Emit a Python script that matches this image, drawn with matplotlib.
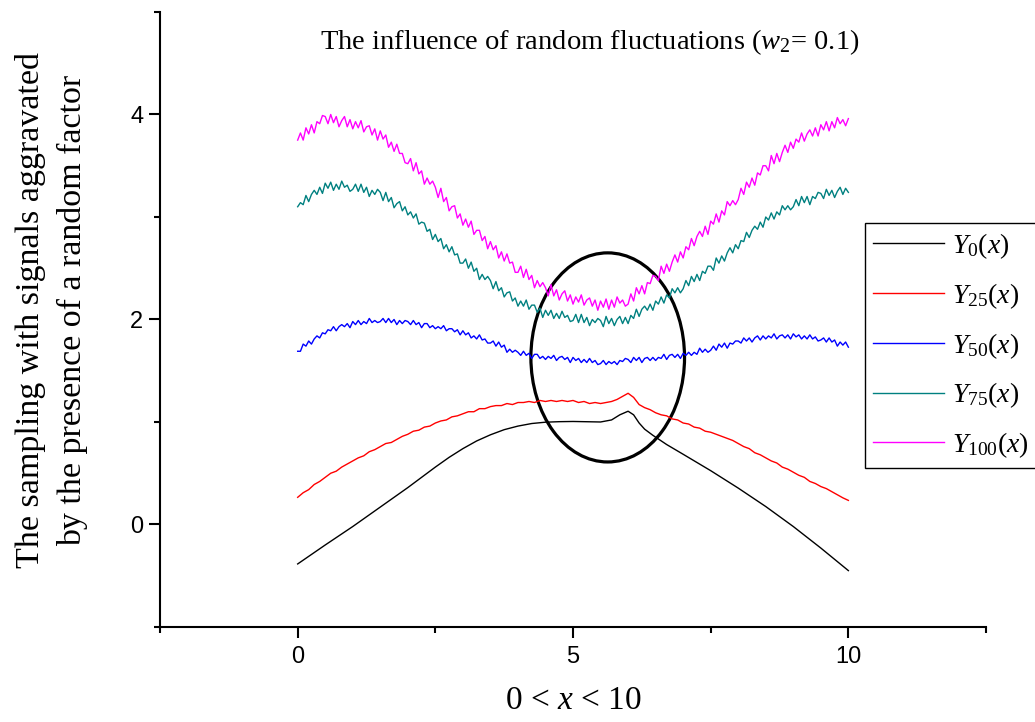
import numpy as np
import matplotlib
matplotlib.use('Agg')
import matplotlib.pyplot as plt
from matplotlib.patches import Ellipse

plt.rcParams['font.family'] = ['Liberation Sans', 'DejaVu Sans']
plt.rcParams['mathtext.fontset'] = 'custom'
plt.rcParams['mathtext.rm'] = 'Liberation Serif'
plt.rcParams['mathtext.it'] = 'Liberation Serif:italic'

# sampling grids
x_fine = np.linspace(0, 10, 201)
x_mid = np.linspace(0, 10, 101)

# Y0 (smooth)
x_y0 = [0, 0.5, 1, 1.5, 2, 2.5, 2.75, 3, 3.25, 3.5, 3.75, 4, 4.25, 4.5, 4.75, 5, 5.5,
        5.7, 5.85, 6.0, 6.1, 6.2, 6.3, 6.45, 6.7, 7, 7.5, 8, 8.5, 9, 9.5, 10]
y0 = [-0.385, -0.20, -0.02, 0.17, 0.36, 0.56, 0.655, 0.74, 0.815, 0.875, 0.925, 0.96,
      0.985, 0.998, 1.003, 1.005, 1.0, 1.02, 1.07, 1.105, 1.07, 0.99, 0.93, 0.87, 0.78,
      0.685, 0.525, 0.355, 0.175, -0.02, -0.23, -0.45]

# Y25 (step 0.1)
y25 = [0.265, 0.31, 0.34, 0.39, 0.42, 0.46, 0.50, 0.52, 0.56, 0.59,
       0.62, 0.65, 0.67, 0.71, 0.73, 0.76, 0.79, 0.80, 0.83, 0.86,
       0.88, 0.91, 0.92, 0.95, 0.96, 0.99, 1.01, 1.02, 1.05, 1.06,
       1.08, 1.10, 1.10, 1.13, 1.13, 1.15, 1.16, 1.16, 1.18, 1.17,
       1.19, 1.19, 1.20, 1.19, 1.21, 1.20, 1.21, 1.20, 1.21, 1.20,
       1.21, 1.19, 1.20, 1.18, 1.19, 1.18, 1.19, 1.20, 1.22, 1.25,
       1.28, 1.24, 1.17, 1.14, 1.12, 1.09, 1.07, 1.06, 1.03, 1.02,
       0.99, 0.98, 0.95, 0.94, 0.91, 0.90, 0.88, 0.86, 0.84, 0.82,
       0.79, 0.76, 0.74, 0.70, 0.68, 0.65, 0.62, 0.60, 0.56, 0.54,
       0.51, 0.48, 0.46, 0.42, 0.40, 0.37, 0.35, 0.32, 0.29, 0.26,
       0.235]

# Y50 (step 0.05)
y50 = [1.69, 1.69, 1.76, 1.74, 1.79, 1.76, 1.81, 1.84, 1.82, 1.87,
       1.86, 1.90, 1.89, 1.93, 1.89, 1.93, 1.95, 1.93, 1.96, 1.92,
       1.98, 1.95, 1.99, 1.95, 1.98, 1.96, 2.01, 1.97, 1.99, 1.97,
       1.98, 2.01, 1.97, 2.01, 1.97, 2.00, 1.95, 1.99, 1.96, 1.99,
       1.98, 1.95, 1.99, 1.95, 1.97, 1.92, 1.96, 1.96, 1.92, 1.94,
       1.91, 1.93, 1.91, 1.94, 1.89, 1.91, 1.91, 1.88, 1.90, 1.85,
       1.89, 1.85, 1.87, 1.82, 1.84, 1.81, 1.85, 1.80, 1.81, 1.77,
       1.77, 1.79, 1.74, 1.78, 1.73, 1.75, 1.68, 1.71, 1.68, 1.70,
       1.68, 1.65, 1.69, 1.65, 1.67, 1.62, 1.66, 1.66, 1.62, 1.64,
       1.61, 1.64, 1.62, 1.65, 1.60, 1.63, 1.64, 1.61, 1.63, 1.58,
       1.63, 1.60, 1.62, 1.58, 1.61, 1.58, 1.62, 1.58, 1.60, 1.56,
       1.57, 1.60, 1.56, 1.59, 1.57, 1.59, 1.56, 1.60, 1.59, 1.62,
       1.61, 1.58, 1.63, 1.60, 1.63, 1.58, 1.62, 1.63, 1.60, 1.63,
       1.60, 1.63, 1.62, 1.66, 1.61, 1.65, 1.66, 1.63, 1.66, 1.62,
       1.67, 1.65, 1.68, 1.65, 1.68, 1.66, 1.72, 1.68, 1.71, 1.68,
       1.70, 1.74, 1.70, 1.76, 1.73, 1.77, 1.72, 1.77, 1.76, 1.79,
       1.79, 1.77, 1.82, 1.79, 1.82, 1.78, 1.82, 1.84, 1.80, 1.84,
       1.81, 1.84, 1.82, 1.86, 1.81, 1.84, 1.85, 1.82, 1.85, 1.81,
       1.86, 1.83, 1.85, 1.81, 1.84, 1.81, 1.85, 1.81, 1.83, 1.79,
       1.80, 1.82, 1.78, 1.82, 1.78, 1.80, 1.74, 1.78, 1.75, 1.78,
       1.73]

# Y75 (step 0.05)
y75 = [3.10, 3.14, 3.12, 3.21, 3.15, 3.22, 3.26, 3.22, 3.29, 3.23,
       3.33, 3.28, 3.34, 3.26, 3.32, 3.27, 3.35, 3.29, 3.31, 3.25,
       3.27, 3.32, 3.25, 3.32, 3.24, 3.29, 3.20, 3.26, 3.22, 3.27,
       3.24, 3.16, 3.24, 3.15, 3.19, 3.09, 3.13, 3.15, 3.06, 3.10,
       3.02, 3.05, 2.99, 3.03, 2.93, 2.95, 2.94, 2.86, 2.88, 2.78,
       2.83, 2.76, 2.79, 2.69, 2.73, 2.66, 2.71, 2.63, 2.64, 2.55,
       2.55, 2.59, 2.50, 2.56, 2.47, 2.50, 2.39, 2.44, 2.39, 2.42,
       2.38, 2.30, 2.37, 2.28, 2.31, 2.22, 2.26, 2.27, 2.18, 2.21,
       2.13, 2.18, 2.13, 2.19, 2.10, 2.14, 2.14, 2.07, 2.11, 2.02,
       2.09, 2.04, 2.09, 2.01, 2.06, 2.01, 2.08, 2.02, 2.04, 1.98,
       1.99, 2.05, 1.97, 2.05, 1.97, 2.02, 1.94, 2.00, 1.97, 2.01,
       1.99, 1.93, 2.03, 1.96, 2.01, 1.94, 2.00, 2.03, 1.96, 2.02,
       1.96, 2.04, 2.01, 2.10, 2.03, 2.10, 2.13, 2.09, 2.15, 2.09,
       2.18, 2.15, 2.22, 2.16, 2.24, 2.21, 2.30, 2.26, 2.31, 2.26,
       2.30, 2.38, 2.33, 2.42, 2.37, 2.44, 2.38, 2.47, 2.45, 2.52,
       2.52, 2.48, 2.60, 2.55, 2.62, 2.57, 2.65, 2.70, 2.65, 2.73,
       2.69, 2.77, 2.76, 2.85, 2.80, 2.87, 2.91, 2.88, 2.95, 2.90,
       3.00, 2.97, 3.04, 2.98, 3.05, 3.02, 3.11, 3.07, 3.11, 3.07,
       3.10, 3.17, 3.11, 3.20, 3.14, 3.20, 3.12, 3.20, 3.18, 3.24,
       3.23, 3.18, 3.27, 3.21, 3.26, 3.19, 3.25, 3.29, 3.22, 3.28,
       3.24]

# Y100 (step 0.05)
y100 = [3.75, 3.82, 3.75, 3.87, 3.81, 3.90, 3.82, 3.93, 3.91, 3.99,
        3.98, 3.91, 4.00, 3.92, 3.98, 3.88, 3.94, 3.98, 3.88, 3.95,
        3.86, 3.93, 3.87, 3.94, 3.83, 3.88, 3.89, 3.80, 3.86, 3.75,
        3.84, 3.76, 3.80, 3.68, 3.73, 3.64, 3.71, 3.62, 3.62, 3.53,
        3.52, 3.57, 3.45, 3.53, 3.42, 3.45, 3.32, 3.38, 3.32, 3.35,
        3.29, 3.19, 3.28, 3.15, 3.19, 3.06, 3.10, 3.11, 2.99, 3.03,
        2.92, 2.98, 2.90, 2.96, 2.83, 2.87, 2.87, 2.77, 2.81, 2.69,
        2.76, 2.68, 2.72, 2.60, 2.66, 2.57, 2.64, 2.55, 2.56, 2.46,
        2.46, 2.52, 2.41, 2.49, 2.39, 2.43, 2.31, 2.38, 2.32, 2.36,
        2.31, 2.23, 2.34, 2.23, 2.29, 2.19, 2.25, 2.28, 2.18, 2.24,
        2.15, 2.22, 2.17, 2.24, 2.14, 2.19, 2.21, 2.13, 2.19, 2.09,
        2.18, 2.12, 2.20, 2.10, 2.19, 2.12, 2.22, 2.16, 2.19, 2.13,
        2.15, 2.25, 2.18, 2.31, 2.25, 2.33, 2.25, 2.36, 2.35, 2.43,
        2.42, 2.38, 2.52, 2.45, 2.54, 2.47, 2.56, 2.63, 2.56, 2.66,
        2.60, 2.71, 2.68, 2.79, 2.72, 2.81, 2.86, 2.81, 2.91, 2.83,
        2.96, 2.93, 3.03, 2.95, 3.06, 3.02, 3.15, 3.11, 3.16, 3.12,
        3.17, 3.28, 3.22, 3.34, 3.29, 3.38, 3.31, 3.43, 3.41, 3.50,
        3.50, 3.45, 3.60, 3.52, 3.62, 3.54, 3.63, 3.70, 3.63, 3.73,
        3.67, 3.76, 3.73, 3.82, 3.74, 3.81, 3.85, 3.79, 3.87, 3.79,
        3.90, 3.85, 3.93, 3.84, 3.93, 3.87, 3.97, 3.91, 3.95, 3.89,
        3.96]

labels = [r'$Y_{0}(x)$', r'$Y_{25}(x)$', r'$Y_{50}(x)$', r'$Y_{75}(x)$', r'$Y_{100}(x)$']
colors = ['black', 'red', 'blue', '#008080', 'magenta']

fig = plt.figure(figsize=(10.35, 7.22), dpi=100, facecolor='white')
ax = fig.add_axes([0.1546, 0.1316, 0.7981, 0.8518])

ax.plot(x_y0, y0, color=colors[0], lw=1.0, label=labels[0])
ax.plot(x_mid, y25, color=colors[1], lw=1.0, label=labels[1])
ax.plot(x_fine, y50, color=colors[2], lw=1.0, label=labels[2])
ax.plot(x_fine, y75, color=colors[3], lw=1.0, label=labels[3])
ax.plot(x_fine, y100, color=colors[4], lw=1.0, label=labels[4])

# highlighted region
ax.add_patch(Ellipse((5.63, 1.63), 2.79, 2.04, fill=False, ec='black', lw=2.3))

ax.set_xlim(-2.5, 12.5)
ax.set_ylim(-1, 5)
ax.set_xticks([0, 5, 10])
ax.set_xticks([-2.5, 2.5, 7.5, 12.5], minor=True)
ax.set_yticks([0, 2, 4])
ax.set_yticks([-1, 1, 3, 5], minor=True)
for s in ['top', 'right']:
    ax.spines[s].set_visible(False)
for s in ['left', 'bottom']:
    ax.spines[s].set_linewidth(1.5)
ax.tick_params(which='major', direction='out', length=8, width=1.5, labelsize=17)
ax.tick_params(which='minor', direction='out', length=4.5, width=1.5)
ax.tick_params(axis='x', which='major', pad=6)
ax.tick_params(axis='y', which='major', pad=4)

ax.set_xlabel(r'0 < $x$ < 10', fontsize=24, family='Liberation Serif', labelpad=12)
fig.text(0.050, 0.57, 'The sampling with signals aggravated\nby the presence of a random factor',
         rotation=90, ha='center', va='center', multialignment='center',
         fontsize=24.5, family='Liberation Serif', linespacing=1.45)
fig.text(0.570, 0.942, r'The influence of random fluctuations ($w_2$= 0.1)',
         ha='center', va='center', fontsize=20.5, family='Liberation Serif')

leg = fig.legend(loc='upper left', bbox_to_anchor=(865 / 1035, 1 - 223 / 722),
                 borderaxespad=0, fontsize=20, handlelength=2.55, handletextpad=0.3,
                 labelspacing=0.72, borderpad=0.3, fancybox=False, framealpha=1)
leg.get_frame().set_edgecolor('black')
leg.get_frame().set_linewidth(1.0)

fig.savefig('out.png', dpi=100)
